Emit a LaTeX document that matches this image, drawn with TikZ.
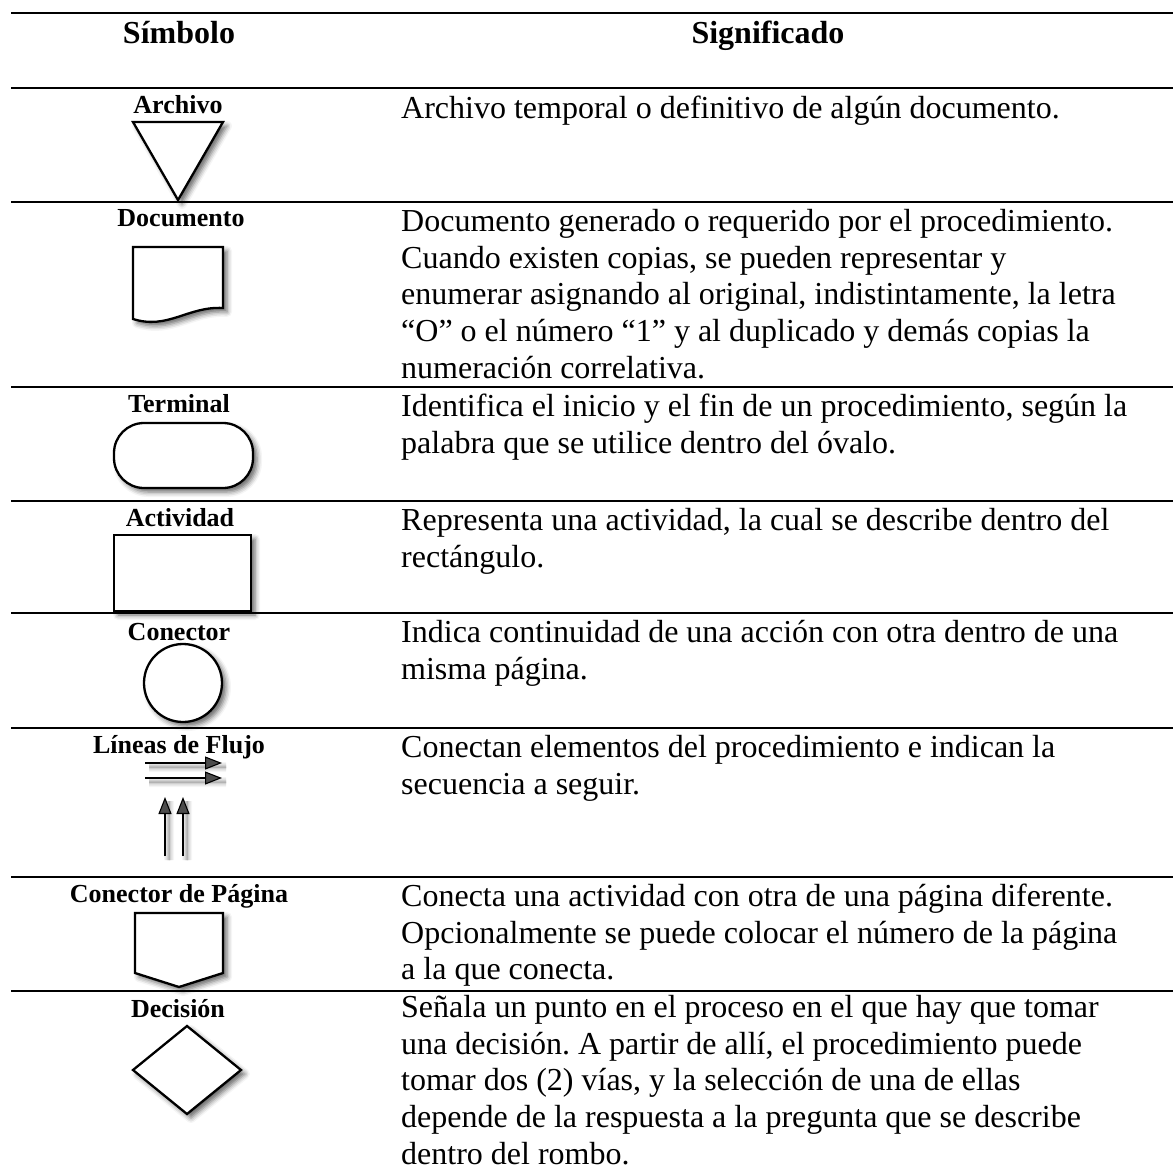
\documentclass[tikz,border=0pt]{standalone}
\usepackage{fontspec}
\setmainfont{Liberation Serif}
\usetikzlibrary{arrows.meta,shadows.blur}
\frenchspacing

\begin{document}
\begin{tikzpicture}[x=1pt,y=-1pt,
  rule/.style={line width=2.8pt},
  shade/.style={blur shadow={shadow xshift=4pt, shadow yshift=-4pt, shadow blur radius=5pt, shadow opacity=60}},
  sym/.style={draw, line width=2.3pt, fill=white, line join=miter, shade},
  flow/.style={line width=1.1pt, -{Triangle[length=17pt,width=13pt]}, shade},
  head/.style={anchor=base, inner sep=0pt, font=\fontsize{32}{36.8}\selectfont\bfseries},
  lbl/.style={anchor=base, inner sep=0pt, font=\fontsize{26}{30}\selectfont\bfseries},
  % the node is hung from the baseline of its first line (strut height = .7 x 36.8pt)
  desc/.style={anchor=north west, yshift=25.76pt, align=left, inner sep=0pt, font=\fontsize{32}{36.8}\selectfont\frenchspacing}
]
\useasboundingbox (0,0) rectangle (1173,1170);

% table rules
\foreach \yy in {13,88,202,387,501,613,728,877,991}
  \draw[rule] (11,\yy) -- (1173,\yy);

% header
\node[head] (hsym) at (179,43) {Símbolo};
\node[head] (hsig) at (768,43) {Significado};

% symbol labels
\node[lbl] (larch) at (178,113) {Archivo};
\node[lbl] (ldoc)  at (181,226) {Documento};
\node[lbl] (lterm) at (179,412) {Terminal};
\node[lbl] (lact)  at (180,526) {Actividad};
\node[lbl] (lcon)  at (179,640) {Conector};
\node[lbl] (lflu)  at (179,753) {Líneas de Flujo};
\node[lbl] (lpag)  at (179,902) {Conector de Página};
\node[lbl] (ldec)  at (178,1017) {Decisión};

% symbols
\draw[sym] (133,122) -- (223,122) -- (178,200) -- cycle;
\draw[sym] (133,247) -- (223,247) -- (223,308)
  .. controls (188,306) and (168,330) .. (133,319) -- cycle;
\draw[sym, rounded corners=30pt] (114,423) rectangle (253,488);
\draw[sym] (114,535) rectangle (251,611);
\draw[sym] (183,683) circle[radius=39pt];

\coordinate (f1a) at (145,763); \coordinate (f1b) at (222,763);
\coordinate (f2a) at (145,778); \coordinate (f2b) at (222,778);
\coordinate (f3a) at (165,856); \coordinate (f3b) at (165,797);
\coordinate (f4a) at (183,856); \coordinate (f4b) at (183,797);
\draw[flow] (f1a) -- (f1b);
\draw[flow] (f2a) -- (f2b);
\draw[flow] (f3a) -- (f3b);
\draw[flow] (f4a) -- (f4b);

\draw[sym] (135,913) -- (223,913) -- (223,973) -- (179,987) -- (135,973) -- cycle;
\draw[sym] (187,1026) -- (241,1070) -- (187,1114) -- (133,1070) -- cycle;

% descriptions
\node[desc] (d1) at (401,118) {\strut Archivo temporal o definitivo de algún documento.};
\node[desc] (d2) at (401,231) {\strut Documento generado o requerido por el procedimiento.\\Cuando existen copias, se pueden representar y\\enumerar asignando al original, indistintamente, la letra\\“O” o el número “1” y al duplicado y demás copias la\\numeración correlativa.};
\node[desc] (d3) at (401,416) {\strut Identifica el inicio y el fin de un procedimiento, según la\\palabra que se utilice dentro del óvalo.};
\node[desc] (d4) at (401,530) {\strut Representa una actividad, la cual se describe dentro del\\rectángulo.};
\node[desc] (d5) at (401,642) {\strut Indica continuidad de una acción con otra dentro de una\\misma página.};
\node[desc] (d6) at (401,757) {\strut Conectan elementos del procedimiento e indican la\\secuencia a seguir.};
\node[desc] (d7) at (401,906) {\strut Conecta una actividad con otra de una página diferente.\\Opcionalmente se puede colocar el número de la página\\a la que conecta.};
\node[desc] (d8) at (401,1017) {\strut Señala un punto en el proceso en el que hay que tomar\\una decisión. A partir de allí, el procedimiento puede\\tomar dos (2) vías, y la selección de una de ellas\\depende de la respuesta a la pregunta que se describe\\dentro del rombo.};
\end{tikzpicture}
\end{document}
